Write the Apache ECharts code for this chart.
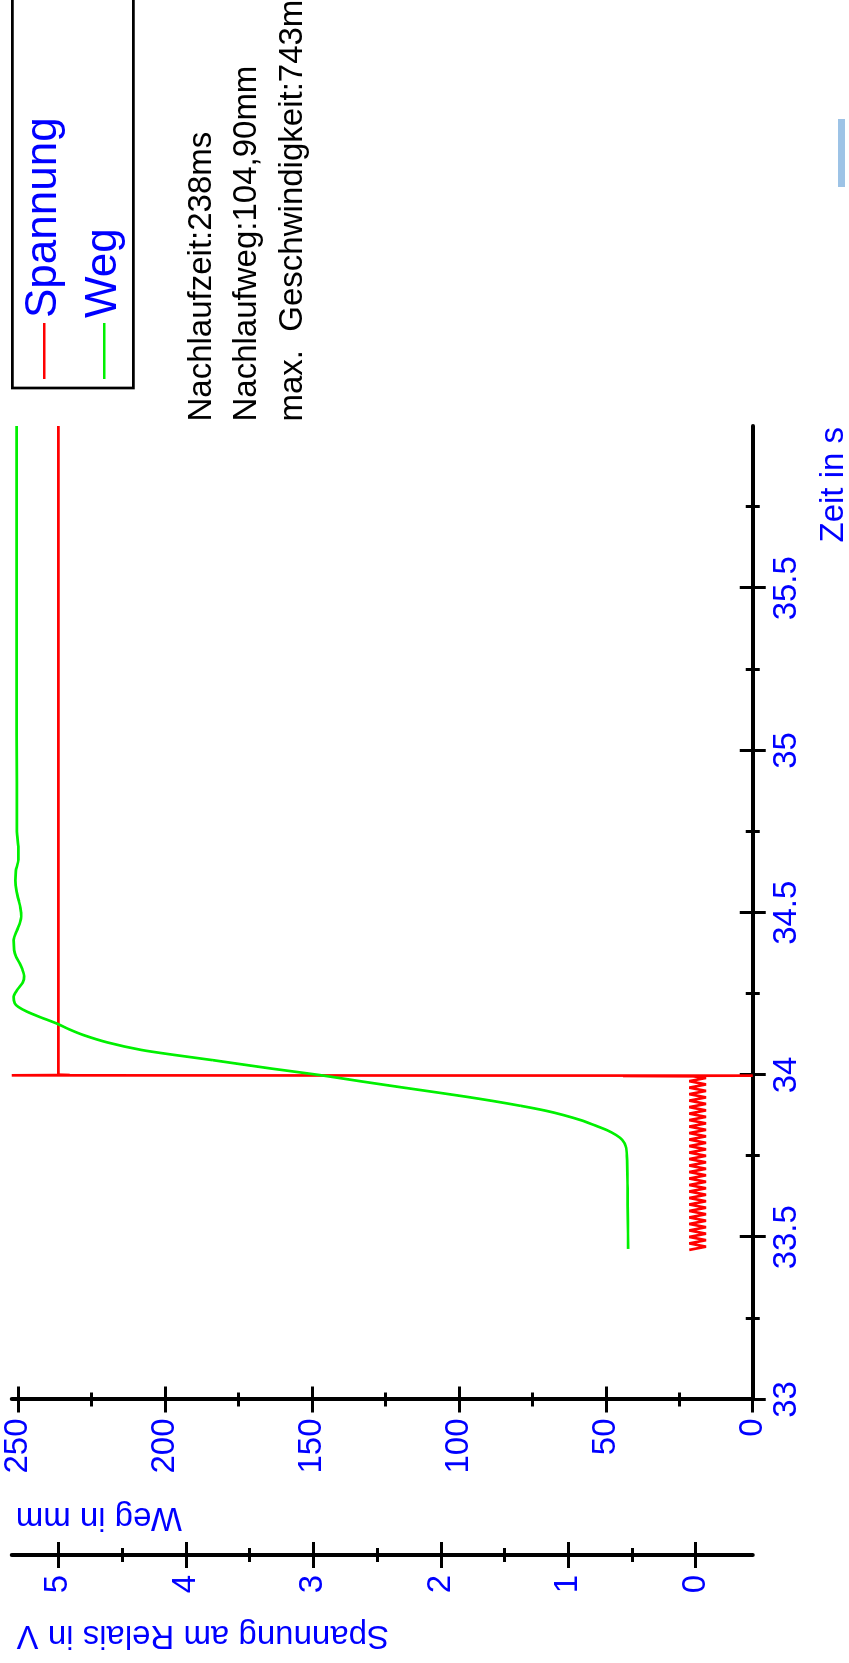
<!DOCTYPE html>
<html>
<head>
<meta charset="utf-8">
<script src="https://cdn.jsdelivr.net/npm/echarts@6/dist/echarts.min.js"></script>
<style>
  html, body { margin: 0; padding: 0; background: #fff; overflow: hidden; width: 849px; height: 1663px; }
  /* the plot is laid out landscape and turned a quarter turn to the left */
  #chart { position: absolute; left: 0; top: 0; width: 1663px; height: 849px;
           transform-origin: 0 0; transform: translate(0, 1663px) rotate(-90deg); }
</style>
</head>
<body>
<div id="chart"></div>
<script>
// Abschaltmessung: Spannung am Relais und Weg des Antriebs über der Zeit

// Achsenteilung
const zeitTicks = [33, 33.5, 34, 34.5, 35, 35.5];
const zeitMinorTicks = [33.25, 33.75, 34.25, 34.75, 35.25, 35.75];
const wegTicks = [0, 50, 100, 150, 200, 250];
const wegMinorTicks = [25, 75, 125, 175, 225];
const spannungTicks = [0, 1, 2, 3, 4, 5];
const spannungMinorTicks = [0.5, 1.5, 2.5, 3.5, 4.5];

// Spannung am Relais (V): Brummen vor dem Schalten, dann Sprung auf 5 V
const spannungZeit = [
  33.461, 33.471, 33.481, 33.491, 33.501, 33.511, 33.521, 33.531, 33.541, 33.551,
  33.561, 33.571, 33.581, 33.591, 33.601, 33.611, 33.621, 33.631, 33.641, 33.651,
  33.661, 33.671, 33.681, 33.691, 33.701, 33.711, 33.721, 33.731, 33.741, 33.751,
  33.761, 33.771, 33.781, 33.791, 33.801, 33.811, 33.821, 33.831, 33.841, 33.851,
  33.861, 33.871, 33.881, 33.891, 33.901, 33.911, 33.921, 33.931, 33.941, 33.951,
  33.961, 33.971, 33.981, 33.991, 33.996,
  33.997, 33.9975, 33.998, 33.999, 34.0, 34.001, 36.0
];
const spannungWert = [
  0.05, -0.08, 0.05, -0.08, 0.05, -0.08, 0.05, -0.08, 0.05, -0.08,
  0.05, -0.08, 0.05, -0.08, 0.05, -0.08, 0.05, -0.08, 0.05, -0.08,
  0.05, -0.08, 0.05, -0.08, 0.05, -0.08, 0.05, -0.08, 0.05, -0.08,
  0.05, -0.08, 0.05, -0.08, 0.05, -0.08, 0.05, -0.08, 0.05, -0.08,
  0.05, -0.08, 0.05, -0.08, 0.05, -0.08, 0.05, -0.08, 0.05, -0.08,
  0.05, -0.08, 0.05, -0.08, 0.02,
  0.57, 0.36, -0.447, 5.366, 4.91, 5.0, 5.0
];

// Weg (mm)
const wegZeit = [
  33.464, 33.55, 33.65, 33.75, 33.78, 33.80, 33.815, 33.83, 33.845, 33.86,
  33.877, 33.89, 33.905, 33.92, 33.933, 33.945, 33.96, 33.98, 34.0, 34.02,
  34.046, 34.062, 34.077, 34.1, 34.123, 34.14, 34.159, 34.18, 34.195, 34.21,
  34.221, 34.241, 34.262, 34.285, 34.305, 34.325, 34.344, 34.365, 34.385, 34.416,
  34.447, 34.47, 34.488, 34.515, 34.539, 34.565, 34.6, 34.63, 34.663, 34.7,
  34.75, 34.9, 35.2, 35.6, 36.0
];
const wegWert = [
  42.4, 42.5, 42.6, 42.8, 43.2, 44.4, 46.5, 49.6, 53.8, 58.2,
  64.6, 70.5, 79.0, 88.5, 97.5, 106.5, 118, 133, 147.5, 164,
  184, 197, 208, 219.5, 227.8, 232.5, 237, 243, 247, 250,
  251.2, 251.6, 250.4, 248.5, 248, 248.6, 249.5, 250.8, 251.4, 251.6,
  250.4, 249.4, 249, 249.3, 249.9, 250.6, 251.0, 250.8, 250, 250,
  250.5, 250.5, 250.6, 250.6, 250.6
];

const legendNamen = ['Spannung', 'Weg'];
const kennwerte = [
  'Nachlaufzeit:238ms',
  'Nachlaufweg:104,90mm',
  'max.  Geschwindigkeit:743mm/s'
];

const FONT = '"Liberation Sans", Arial, Helvetica, sans-serif';
const BLUE = '#0000ff';
const RED = '#ff0000';
const GREEN = '#00f000';

const zip = (a, b) => a.map((v, i) => [v, b[i]]);

// one axis drawn as four layers: line + major ticks outside + labels,
// major ticks inside, minor ticks outside, minor ticks inside
function axisLayers(base, major, minor, labelMargin) {
  const tick = (values, len, inside) => ({
    show: true, inside: inside, length: len, customValues: values,
    lineStyle: { color: '#000', width: 3 }
  });
  const common = { splitLine: { show: false }, minorTick: { show: false }, minorSplitLine: { show: false }, silent: true };
  return [
    Object.assign({}, base, common, {
      axisLine: { show: true, onZero: false, lineStyle: { color: '#000', width: 4 } },
      axisTick: tick(major, 13, false),
      axisLabel: {
        show: true, customValues: major, margin: labelMargin,
        color: BLUE, fontSize: 33, fontFamily: FONT,
        formatter: v => String(v)
      }
    }),
    Object.assign({}, base, common, {
      axisLine: { show: false, onZero: false }, axisLabel: { show: false },
      axisTick: tick(major, 13, true)
    }),
    Object.assign({}, base, common, {
      axisLine: { show: false, onZero: false }, axisLabel: { show: false },
      axisTick: tick(minor, 7, false)
    }),
    Object.assign({}, base, common, {
      axisLine: { show: false, onZero: false }, axisLabel: { show: false },
      axisTick: tick(minor, 7, true)
    })
  ];
}

const xAxes = axisLayers(
  { type: 'value', gridIndex: 0, position: 'bottom', min: 33, max: 36 },
  zeitTicks, zeitMinorTicks, 18);
const yWeg = axisLayers(
  { type: 'value', gridIndex: 0, position: 'left', offset: 0, min: 0, max: 252.25 },
  wegTicks, wegMinorTicks, 19);
const ySpannung = axisLayers(
  { type: 'value', gridIndex: 0, position: 'left', offset: 155.5, min: -0.447, max: 5.366 },
  spannungTicks, spannungMinorTicks, 20);

const chart = echarts.init(document.getElementById('chart'), null, { renderer: 'canvas' });

const option = {
  animation: false,
  backgroundColor: '#ffffff',
  grid: { left: 263.5, top: 11.7, width: 973.5, height: 741, containLabel: false },
  xAxis: xAxes,
  yAxis: yWeg.concat(ySpannung),
  legend: {
    show: true,
    orient: 'vertical',
    left: 1275, top: 12.3,
    data: legendNamen,
    icon: 'rect',
    itemWidth: 56, itemHeight: 2.5, itemGap: 16,
    padding: [10, 200, 7, 9],
    borderColor: '#000', borderWidth: 2.7,
    selectedMode: false,
    textStyle: { color: BLUE, fontSize: 44, fontFamily: FONT }
  },
  series: [
    {
      name: 'Spannung', type: 'line', xAxisIndex: 0, yAxisIndex: 4,
      data: zip(spannungZeit, spannungWert),
      showSymbol: false, clip: true,
      lineStyle: { color: RED, width: 2.7 }, itemStyle: { color: RED }
    },
    {
      name: 'Weg', type: 'line', xAxisIndex: 0, yAxisIndex: 0,
      data: zip(wegZeit, wegWert),
      showSymbol: false, clip: true, smooth: 0.25,
      lineStyle: { color: GREEN, width: 2.7 }, itemStyle: { color: GREEN }
    }
  ],
  graphic: [
    { type: 'text', x: 145.6, y: 182, rotation: Math.PI / 2,
      style: { text: 'Weg in mm', fill: BLUE, font: '33px ' + FONT, textAlign: 'left', textVerticalAlign: 'middle' } },
    { type: 'text', x: 28.2, y: 389, rotation: Math.PI / 2,
      style: { text: 'Spannung am Relais in V', fill: BLUE, font: '33px ' + FONT, textAlign: 'left', textVerticalAlign: 'middle' } },
    { type: 'text', x: 1236, y: 833.6,
      style: { text: 'Zeit in s', fill: BLUE, font: '33px ' + FONT, textAlign: 'right', textVerticalAlign: 'middle' } },
    { type: 'text', x: 1241.5, y: 201.6,
      style: { text: kennwerte[0], fill: '#000', font: '33px ' + FONT, textAlign: 'left', textVerticalAlign: 'middle' } },
    { type: 'text', x: 1241.5, y: 246.6,
      style: { text: kennwerte[1], fill: '#000', font: '33px ' + FONT, textAlign: 'left', textVerticalAlign: 'middle' } },
    { type: 'text', x: 1241.5, y: 292.6,
      style: { text: kennwerte[2], fill: '#000', font: '33px ' + FONT, textAlign: 'left', textVerticalAlign: 'middle' } },
    { type: 'rect', shape: { x: 1476, y: 838, width: 68, height: 7 },
      style: { fill: '#9dc3e6' } }
  ]
};

chart.setOption(option);
</script>
</body>
</html>
